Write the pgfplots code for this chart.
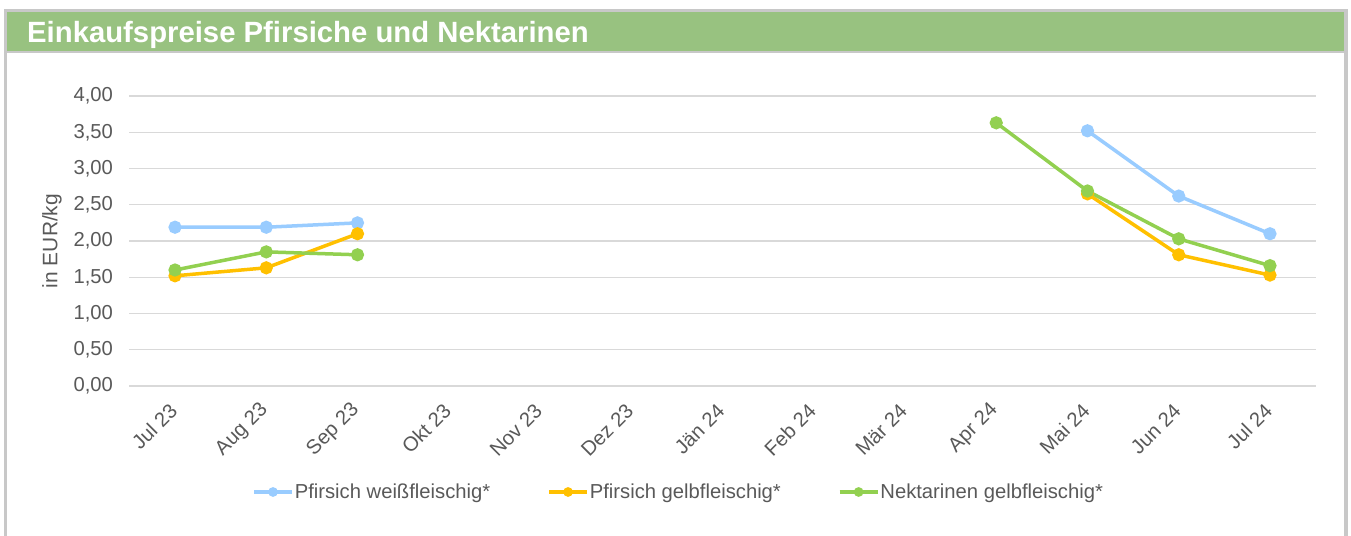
\documentclass[border=0pt]{standalone}
\usepackage{pgfplots}
\pgfplotsset{compat=1.18}
\usepackage{fontspec}
\setmainfont{Liberation Sans}
\definecolor{cblue}{HTML}{99CCFF}
\definecolor{corange}{HTML}{FFC000}
\definecolor{cgreen}{HTML}{92D050}
\definecolor{band}{HTML}{98C280}
\definecolor{frame}{HTML}{C8C8C8}
\definecolor{gridc}{HTML}{D9D9D9}
\definecolor{txt}{HTML}{595959}
\begin{document}
\begin{tikzpicture}
\path[use as bounding box] (0,0) rectangle (1351bp,536bp);
\fill[frame] (4bp,0bp) rectangle (1348bp,527bp);
\fill[white] (7bp,0bp) rectangle (1344bp,482.7bp);
\fill[band] (7bp,485.3bp) rectangle (1344bp,524bp);
\node[anchor=west,text=white,font=\bfseries\fontsize{29.4}{33}\selectfont,inner sep=0pt] at (27bp,501.5bp) {Einkaufspreise Pfirsiche und Nektarinen};
\begin{axis}[
  at={(129.4bp,150bp)}, anchor=south west,
  width=1186.2bp, height=290bp, scale only axis,
  xmin=-0.5, xmax=12.5, ymin=0, ymax=4,
  xtick={0,...,12},
  xticklabels={Jul 23,Aug 23,Sep 23,Okt 23,Nov 23,Dez 23,Jän 24,Feb 24,Mär 24,Apr 24,Mai 24,Jun 24,Jul 24},
  ytick={0,0.5,...,4},
  /pgf/number format/fixed, /pgf/number format/fixed zerofill, /pgf/number format/precision=2,
  /pgf/number format/use comma, /pgf/number format/assume math mode=true,
  ymajorgrids, grid style={gridc, line width=1.2bp},
  axis line style={draw=none}, tick style={draw=none},
  ticklabel style={text=txt, font=\fontsize{20.3}{23}\selectfont},
  xticklabel style={xshift=1bp, yshift=-19bp, rotate=45, anchor=east},
  yticklabel style={xshift=-13bp},
  ylabel={in EUR/kg},
  ylabel style={at={(axis description cs:-0.0653,0.5)}, anchor=center, text=txt, font=\fontsize{21}{24}\selectfont},
  unbounded coords=jump,
  every axis plot/.append style={line width=3.5bp, mark=*, mark size=4.8bp},
  legend columns=3,
  legend style={at={(axis description cs:0.4626,-0.3655)}, anchor=center, draw=none, fill=none,
    font=\fontsize{20.3}{23}\selectfont, text=txt,
    /tikz/every even column/.append style={column sep=56bp},
    nodes={inner sep=1bp}},
  legend image code/.code={\draw[#1, mark size=3bp] plot coordinates {(0bp,0bp)};\draw[#1,mark=none] (-19bp,0bp) -- (19bp,0bp);},
]
\addplot[cblue, mark options={fill=cblue, draw=cblue}] coordinates {
(0,2.19) (1,2.19) (2,2.25) (3,nan) (4,nan) (5,nan) (6,nan) (7,nan) (8,nan) (9,nan) (10,3.52) (11,2.62) (12,2.10)};
\addlegendentry{Pfirsich weißfleischig*}
\addplot[corange, mark options={fill=corange, draw=corange}] coordinates {
(0,1.52) (1,1.63) (2,2.10) (3,nan) (4,nan) (5,nan) (6,nan) (7,nan) (8,nan) (9,nan) (10,2.65) (11,1.81) (12,1.53)};
\addlegendentry{Pfirsich gelbfleischig*}
\addplot[cgreen, mark options={fill=cgreen, draw=cgreen}] coordinates {
(0,1.60) (1,1.85) (2,1.81) (3,nan) (4,nan) (5,nan) (6,nan) (7,nan) (8,nan) (9,3.63) (10,2.69) (11,2.03) (12,1.66)};
\addlegendentry{Nektarinen gelbfleischig*}
\end{axis}
\end{tikzpicture}
\end{document}
